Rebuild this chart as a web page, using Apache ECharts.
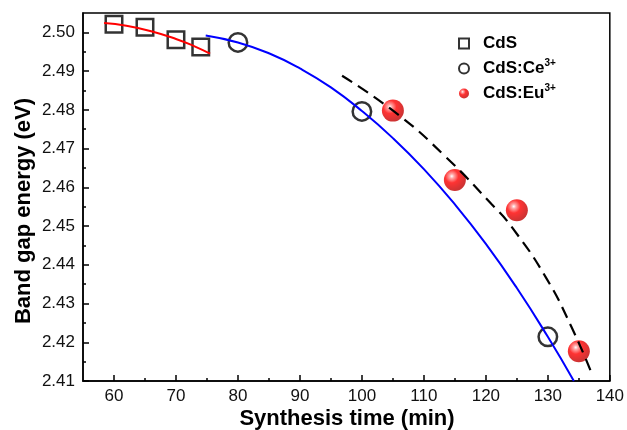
<!DOCTYPE html>
<html>
<head>
  <meta charset="UTF-8">
  <style>
    body { margin: 0; }
    #chart { width: 627px; height: 430px; }
  </style>
  <script src="https://cdn.jsdelivr.net/npm/echarts@6/dist/echarts.min.js"></script>
</head>
<body>
  <div id="chart"></div>
  <script>
    // measured points
    var cdsX = [60, 65, 70, 74];
    var cdsY = [2.5021, 2.5013, 2.4981, 2.4962];
    var ceX = [80, 100, 130];
    var ceY = [2.4974, 2.4796, 2.4214];
    var euX = [105, 115, 125, 135];
    var euY = [2.4798, 2.4619, 2.4541, 2.4177];

    // fitted curves
    var redX = [58.4, 62, 66, 70, 73, 75.5];
    var redY = [2.5024, 2.5017, 2.5003, 2.4983, 2.4964, 2.4945];
    var blueX = [74.8, 80, 85, 90, 95, 100, 105, 110, 115, 120, 125, 130, 134.2];
    var blueY = [2.4992, 2.4974, 2.4946, 2.4907, 2.4858, 2.4797, 2.4727, 2.4647, 2.4556, 2.4454, 2.4340, 2.4214, 2.4100];
    var dashX = [96.8, 105.9, 113.5, 120.9, 124.2, 129.7, 133.8, 137.2];
    var dashY = [2.4888, 2.4787, 2.4679, 2.4557, 2.4497, 2.4367, 2.4240, 2.4115];

    var xTicks = [60, 70, 80, 90, 100, 110, 120, 130, 140];
    var xMinor = [65, 75, 85, 95, 105, 115, 125, 135];
    var yTicks = [2.41, 2.42, 2.43, 2.44, 2.45, 2.46, 2.47, 2.48, 2.49, 2.50];
    var yMinor = [2.415, 2.425, 2.435, 2.445, 2.455, 2.465, 2.475, 2.485, 2.495];

    function pairs(xs, ys) {
      return xs.map(function (x, i) { return [x, ys[i]]; });
    }

    var FONT = 'Liberation Sans, Arial, sans-serif';
    var chart = echarts.init(document.getElementById('chart'));

    var ball = {
      type: 'radial', x: 0.36, y: 0.33, r: 0.67,
      colorStops: [
        { offset: 0, color: '#ffffff' },
        { offset: 0.15, color: '#ff9090' },
        { offset: 0.45, color: '#ff0000' },
        { offset: 1, color: '#c00000' }
      ]
    };

    var option = {
      animation: false,
      grid: { left: 83, right: 15, top: 13, bottom: 49, show: true, borderColor: '#000', borderWidth: 1.5 },
      legend: {
        data: ['CdS', 'CdS:Ce', 'CdS:Eu'],
        orient: 'vertical',
        left: 453,
        top: 30,
        itemWidth: 10,
        itemHeight: 10,
        itemGap: 6,
        formatter: function (n) {
          if (n === 'CdS') return '{m|CdS}';
          return '{m|' + n + '}{s|3+}';
        },
        textStyle: {
          padding: [0, 0, 0, 9],
          rich: {
            m: { fontFamily: FONT, fontSize: 17, fontWeight: 'bold', color: '#000', lineHeight: 21 },
            s: { fontFamily: FONT, fontSize: 10, fontWeight: 'bold', color: '#000', verticalAlign: 'top', lineHeight: 12 }
          }
        }
      },
      xAxis: [{
        type: 'value', min: 55, max: 140,
        axisLine: { lineStyle: { color: '#000', width: 1.5 } },
        axisTick: { inside: true, length: 6, customValues: xTicks, lineStyle: { color: '#000', width: 1.5 } },
        axisLabel: { customValues: xTicks, fontFamily: FONT, fontSize: 17, color: '#111', margin: 7 },
        splitLine: { show: false }
      }, {
        type: 'value', min: 55, max: 140, position: 'bottom',
        axisLine: { show: false },
        axisTick: { inside: true, length: 3, customValues: xMinor, lineStyle: { color: '#000', width: 1.5 } },
        axisLabel: { show: false },
        splitLine: { show: false }
      }],
      yAxis: [{
        type: 'value', min: 2.41, max: 2.505,
        axisLine: { show: true, lineStyle: { color: '#000', width: 1.5 } },
        axisTick: { show: true, inside: true, length: 6, customValues: yTicks, lineStyle: { color: '#000', width: 1.5 } },
        axisLabel: {
          customValues: yTicks, fontFamily: FONT, fontSize: 17, color: '#111', margin: 8,
          formatter: function (v) { return v.toFixed(2); }
        },
        splitLine: { show: false }
      }, {
        type: 'value', min: 2.41, max: 2.505, position: 'left',
        axisLine: { show: false },
        axisTick: { show: true, inside: true, length: 3, customValues: yMinor, lineStyle: { color: '#000', width: 1.5 } },
        axisLabel: { show: false },
        splitLine: { show: false }
      }],
      graphic: [{
        type: 'text', x: 347, y: 419,
        style: { text: 'Synthesis time (min)', font: 'bold 22px ' + FONT, fill: '#000', align: 'center', verticalAlign: 'middle' }
      }, {
        type: 'text', x: 24, y: 211, rotation: Math.PI / 2,
        style: { text: 'Band gap energy (eV)', font: 'bold 22px ' + FONT, fill: '#000', align: 'center', verticalAlign: 'middle' }
      }],
      series: [
        {
          name: 'CdS', type: 'scatter', symbol: 'rect', symbolSize: 16.5, z: 2,
          itemStyle: { color: 'rgba(255,255,255,0)', borderColor: '#000', borderWidth: 2.5 },
          data: pairs(cdsX, cdsY)
        },
        {
          name: 'CdS:Ce', type: 'scatter', symbol: 'circle', symbolSize: 18.5, z: 2,
          itemStyle: { color: 'rgba(255,255,255,0)', borderColor: '#000', borderWidth: 2.5 },
          data: pairs(ceX, ceY)
        },
        {
          name: 'CdS:Eu', type: 'scatter', symbol: 'circle', symbolSize: 22, z: 2,
          itemStyle: { color: ball },
          data: pairs(euX, euY)
        },
        {
          name: 'fitCdS', type: 'line', smooth: true, showSymbol: false, z: 3,
          lineStyle: { color: '#ff0000', width: 2 },
          data: pairs(redX, redY)
        },
        {
          name: 'fitCe', type: 'line', smooth: true, showSymbol: false, z: 3,
          lineStyle: { color: '#0000ff', width: 2 },
          data: pairs(blueX, blueY)
        },
        {
          name: 'fitEu', type: 'line', smooth: true, showSymbol: false, z: 3,
          lineStyle: { color: '#000', width: 2.2, type: [12, 7] },
          data: pairs(dashX, dashY)
        }
      ]
    };
    chart.setOption(option);
  </script>
</body>
</html>
